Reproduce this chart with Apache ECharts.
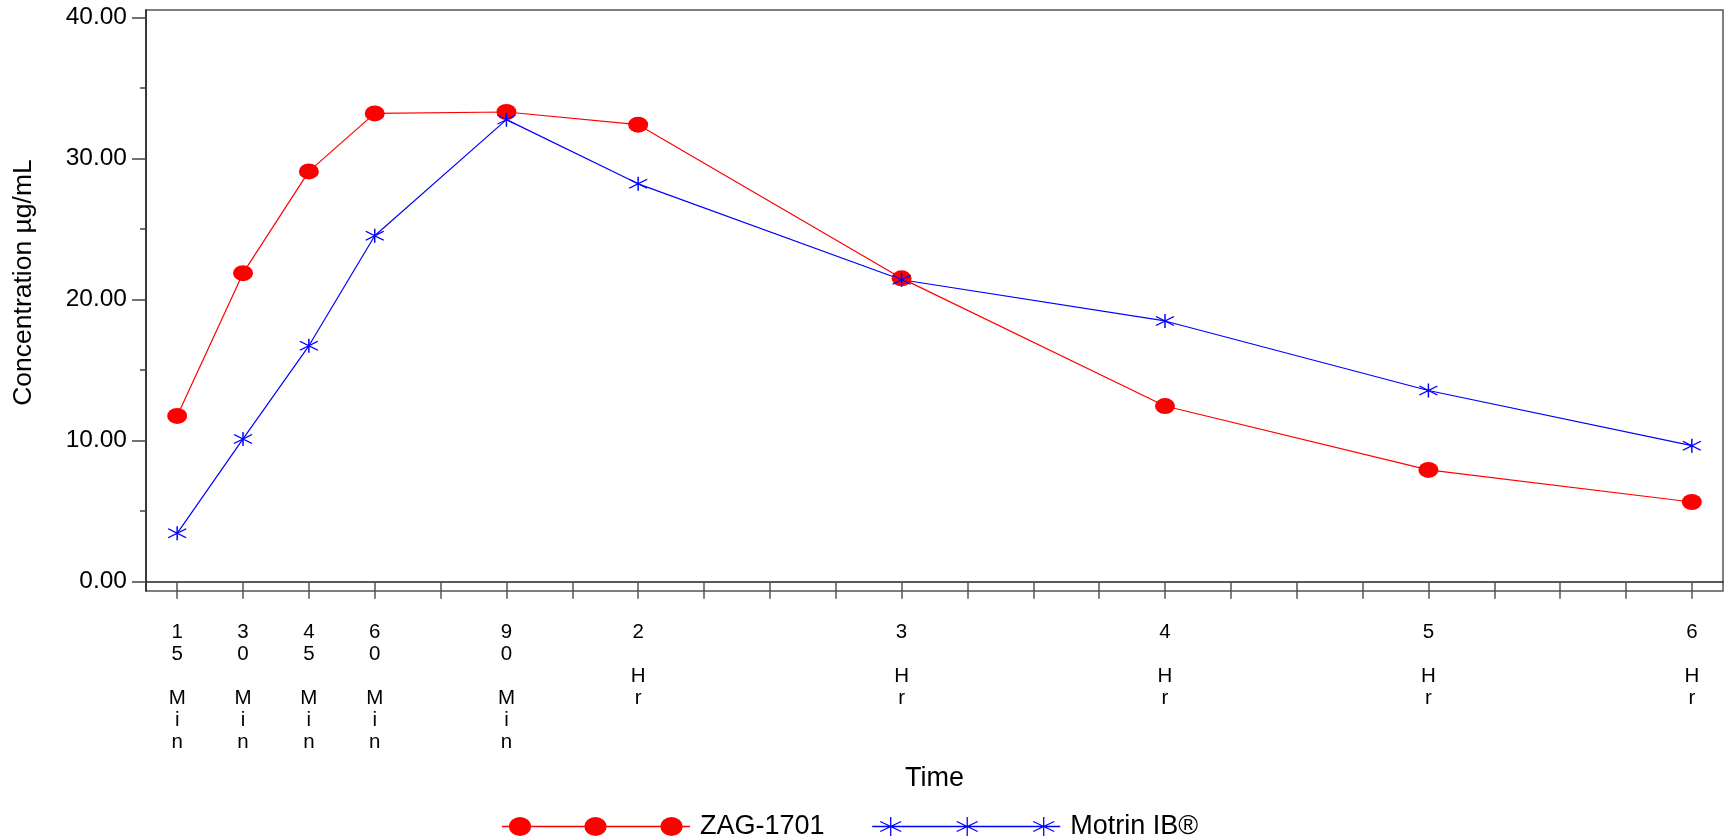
<!DOCTYPE html>
<html><head><meta charset="utf-8">
<script src="https://cdn.jsdelivr.net/npm/echarts@6/dist/echarts.min.js"></script>
<style>html,body{margin:0;padding:0;background:#fff}#c{width:1730px;height:840px}</style>
</head><body><div id="c"></div>
<script>
// ---- data ----
const timesMin = [15, 30, 45, 60, 90, 120, 180, 240, 300, 360];
const zag = [11.75, 21.87, 29.08, 33.19, 33.29, 32.39, 21.50, 12.45, 7.92, 5.65];
const motrin = [3.43, 10.12, 16.72, 24.52, 32.75, 28.20, 21.40, 18.48, 13.55, 9.64];
const xTickValues = [15, 30, 45, 60, 75, 90, 105, 120, 135, 150, 165, 180, 195, 210, 225, 240, 255, 270, 285, 300, 315, 330, 345, 360];
const xLabelValues = [15, 30, 45, 60, 90, 120, 180, 240, 300, 360];
const xLabelTexts = ['15 Min', '30 Min', '45 Min', '60 Min', '90 Min', '2 Hr', '3 Hr', '4 Hr', '5 Hr', '6 Hr'];
const yMajorTicks = [0, 10, 20, 30, 40];
const yMinorTicks = [5, 15, 25, 35];
const seriesNames = ['ZAG-1701', 'Motrin IB®'];

const FONT = 'Liberation Sans, Arial, sans-serif';
const RED = '#ff0000', BLUE = '#0000ff';

const redIcon = 'path://M0 8.75H188V10.25H0Z' +
  'M7 9.5A11 9.5 0 1 1 29 9.5A11 9.5 0 1 1 7 9.5Z' +
  'M82.5 9.5A11 9.5 0 1 1 104.5 9.5A11 9.5 0 1 1 82.5 9.5Z' +
  'M158.5 9.5A11 9.5 0 1 1 180.5 9.5A11 9.5 0 1 1 158.5 9.5Z';
const blueIcon = 'path://M0 9.5H188' +
  'M8 4.5L29 14.5M29 4.5L8 14.5M18.5 0V19' +
  'M84.5 4.5L105.5 14.5M105.5 4.5L84.5 14.5M95 0V19' +
  'M161 4.5L182 14.5M182 4.5L161 14.5M171.5 0V19';
const redSymbol = 'path://M0 8A10 8 0 1 1 20 8A10 8 0 1 1 0 8Z';
const blueSymbol = 'path://M0 2.5L18 11.5M18 2.5L0 11.5M9 0V14';

const chart = echarts.init(document.getElementById('c'), null, {renderer: 'canvas'});
chart.setOption({
  animation: false,
  backgroundColor: '#fff',
  grid: {left: 146, top: 10, width: 1577, height: 581, show: true, borderColor: '#555', borderWidth: 1.5, backgroundColor: 'transparent'},
  legend: {
    left: 497, top: 808, itemWidth: 188, itemHeight: 19, itemGap: 47,
    textStyle: {fontFamily: FONT, fontSize: 27, color: '#000', padding: [0, 0, 0, 5]},
    data: [
      {name: seriesNames[0], icon: redIcon, itemStyle: {color: RED, borderWidth: 0}},
      {name: seriesNames[1], icon: blueIcon, itemStyle: {color: BLUE, borderColor: BLUE, borderWidth: 1.3}}
    ]
  },
  xAxis: {
    type: 'value', min: 7.9, max: 367.1,
    axisLine: {show: true, lineStyle: {color: '#222', width: 1.5}},
    axisTick: {show: true, customValues: xTickValues, length: 17, lineStyle: {color: '#555', width: 1.5}},
    axisLabel: {
      customValues: xLabelValues, margin: 30, fontFamily: FONT, fontSize: 20.5, lineHeight: 22, color: '#000',
      formatter: v => { const i = xLabelValues.indexOf(v); return i < 0 ? '' : xLabelTexts[i].split('').join('\n'); }
    },
    splitLine: {show: false},
    name: 'Time', nameLocation: 'middle', nameGap: 174,
    nameTextStyle: {fontFamily: FONT, fontSize: 27, color: '#000'}
  },
  yAxis: [{
    type: 'value', min: -0.66, max: 40.52, position: 'left',
    axisLine: {show: true, lineStyle: {color: '#222', width: 1.5}},
    axisTick: {show: true, customValues: yMajorTicks, length: 14, lineStyle: {color: '#444', width: 1.5}},
    axisLabel: {customValues: yMajorTicks, margin: 19, fontFamily: FONT, fontSize: 24.5, color: '#000', formatter: v => v.toFixed(2)},
    splitLine: {show: false},
    name: 'Concentration µg/mL', nameLocation: 'middle', nameGap: 109, nameRotate: 90,
    nameTextStyle: {fontFamily: FONT, fontSize: 26.5, color: '#000', padding: [0, 0, 0, 36]}
  }, {
    type: 'value', min: -0.66, max: 40.52, position: 'left',
    axisLine: {show: false},
    axisTick: {show: true, customValues: yMinorTicks, length: 6, lineStyle: {color: '#444', width: 1.5}},
    axisLabel: {show: false},
    splitLine: {show: false}
  }],
  series: [{
    name: seriesNames[0], type: 'line', yAxisIndex: 0,
    data: timesMin.map((t, i) => [t, zag[i]]),
    symbol: redSymbol, symbolSize: [20, 16], showAllSymbol: true,
    itemStyle: {color: RED},
    lineStyle: {color: RED, width: 1.2}
  }, {
    name: seriesNames[1], type: 'line', yAxisIndex: 0,
    data: timesMin.map((t, i) => [t, motrin[i]]),
    symbol: blueSymbol, symbolSize: [18, 14], showAllSymbol: true,
    itemStyle: {color: BLUE, borderColor: BLUE, borderWidth: 1.3},
    lineStyle: {color: BLUE, width: 1.2}
  }]
});
</script>
</body></html>
